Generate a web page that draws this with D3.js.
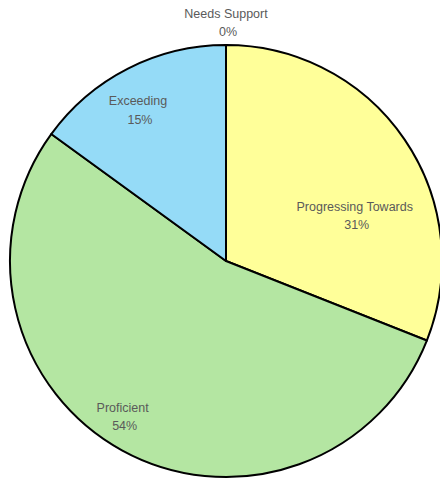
<!DOCTYPE html>
<html>
<head>
<meta charset="utf-8">
<script src="https://cdn.jsdelivr.net/npm/d3@7/dist/d3.min.js"></script>
<style>
  html, body { margin: 0; padding: 0; background: #fff; }
  svg { display: block; }
</style>
</head>
<body>
<svg id="chart" width="440" height="481"></svg>
<script>
// Share of students per level (percent), listed clockwise from 12 o'clock
const categories = ["Needs Support", "Progressing Towards", "Proficient", "Exceeding"];
const percents = [0, 31, 54, 15];
const fills = ["#f4a6a6", "#ffff99", "#b4e6a2", "#95dbf7"];

const width = 440, height = 481;
const cx = 226, cy = 261, radius = 216;

// Label placement: offset from slice mid-angle (degrees) and radius fraction
const labelLayout = {
  "Needs Support":       { da: 0,   rf: 1.11 },
  "Progressing Towards": { da: 14,  rf: 0.635 },
  "Proficient":          { da: 5,   rf: 0.86 },
  "Exceeding":           { da: -3,  rf: 0.815 }
};

const svg = d3.select("#chart");
const g = svg.append("g").attr("transform", `translate(${cx},${cy})`);

const data = categories.map((c, i) => ({ category: c, value: percents[i], fill: fills[i] }));

const pie = d3.pie().sort(null).value(d => d.value);
const arcs = pie(data);
const arc = d3.arc().innerRadius(0).outerRadius(radius);

g.selectAll("path.slice")
  .data(arcs.filter(a => a.data.value > 0))
  .join("path")
  .attr("class", "slice")
  .attr("d", arc)
  .attr("fill", d => d.data.fill)
  .attr("stroke", "#000")
  .attr("stroke-width", 2)
  .attr("stroke-linejoin", "round");

// Zero-width slices still show their radial edge
g.selectAll("line.zero")
  .data(arcs.filter(a => a.data.value === 0))
  .join("line")
  .attr("class", "zero")
  .attr("x1", 0).attr("y1", 0)
  .attr("x2", d => radius * Math.sin(d.startAngle))
  .attr("y2", d => -radius * Math.cos(d.startAngle))
  .attr("stroke", "#000")
  .attr("stroke-width", 2);

const labels = g.selectAll("text.lbl")
  .data(arcs)
  .join("text")
  .attr("class", "lbl")
  .attr("text-anchor", "middle")
  .attr("font-family", "'Liberation Sans', Arial, sans-serif")
  .attr("font-size", "12.5px")
  .attr("fill", "#5a5a5a")
  .attr("transform", d => {
    const L = labelLayout[d.data.category];
    const mid = (d.startAngle + d.endAngle) / 2 + L.da * Math.PI / 180;
    const r = radius * L.rf;
    return `translate(${r * Math.sin(mid)},${-r * Math.cos(mid)})`;
  });

labels.append("tspan")
  .attr("x", 0).attr("dy", "-0.25em")
  .text(d => d.data.category);
labels.append("tspan")
  .attr("x", 2).attr("dy", "1.45em")
  .text(d => d3.format(".0f")(d.data.value) + "%");
</script>
</body>
</html>
